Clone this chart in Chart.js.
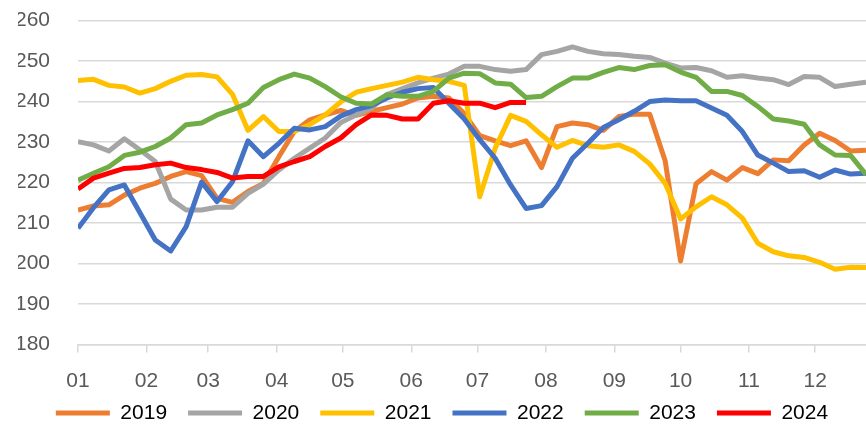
<!DOCTYPE html>
<html>
<head>
<meta charset="utf-8">
<script src="https://cdn.jsdelivr.net/npm/chart.js@4"></script>
<style>
  html, body { margin:0; padding:0; background:#fff; }
  #wrap { width:866px; height:426px; }
</style>
</head>
<body>
<div id="wrap"><canvas id="chSeason"></canvas></div>
<script>
// weekly readings, one point every 7 days from Jan 1
const years = ['2019','2020','2021','2022','2023','2024'];
const colors = ['#ED7D31','#A5A5A5','#FFC000','#4472C4','#70AD47','#FF0000'];
const monthLabels = ['01','02','03','04','05','06','07','08','09','10','11','12'];
const monthStartDays = [0,31,59,90,120,151,181,212,243,273,304,334];
const daysPerStep = 7;

const v2019 = [213.2,214.2,214.5,216.9,218.6,219.8,221.5,222.7,221.7,216.1,215.1,217.8,219.8,226.4,232.6,235.5,236.7,237.8,236.6,237.6,238.5,239.4,240.9,241.3,240.9,237.0,231.6,230.3,229.1,230.3,223.7,233.8,234.7,234.3,232.9,236.3,236.9,236.9,225.4,200.6,219.7,222.7,220.6,223.7,222.2,225.6,225.4,229.3,232.2,230.4,227.8,228.0];
const v2020 = [230.1,229.3,227.8,230.8,228.1,225.2,215.9,213.2,213.2,213.9,213.9,217.3,219.6,223.1,226.0,228.5,231.0,234.8,236.7,238.4,241.7,243.2,244.6,245.8,246.8,248.7,248.7,247.9,247.5,247.9,251.6,252.4,253.5,252.4,251.8,251.6,251.2,250.9,249.5,248.3,248.4,247.6,246.0,246.4,245.8,245.4,244.2,246.2,246.0,243.7,244.3,244.8];
const v2021 = [245.2,245.5,244.0,243.6,242.1,243.2,245.0,246.5,246.7,246.1,241.8,232.9,236.3,232.6,232.6,234.3,236.7,239.9,242.3,243.2,244.0,244.8,246.0,245.4,245.0,244.0,216.5,228.5,236.6,235.1,231.8,228.7,230.4,229.1,228.7,229.3,227.7,224.6,219.8,211.0,214.0,216.5,214.5,211.2,205.0,202.9,201.9,201.5,200.3,198.6,199.1,199.0];
const v2022 = [208.7,213.8,218.2,219.4,212.6,205.8,203.1,209.1,220.1,215.3,220.2,230.3,226.4,229.7,233.4,233.0,233.8,236.4,238.0,239.0,240.9,242.3,243.2,243.5,239.6,235.7,230.6,226.0,219.4,213.6,214.3,219.0,226.0,229.7,233.6,235.5,237.6,240.0,240.4,240.2,240.2,238.4,236.6,232.6,226.8,224.8,222.7,222.9,221.3,223.1,222.1,222.3];
const v2023 = [220.6,222.3,223.9,226.7,227.5,228.9,231.0,234.3,234.7,236.7,238.0,239.6,243.5,245.4,246.8,245.8,243.7,241.2,239.6,239.4,241.7,241.3,241.3,242.5,245.8,247.0,246.9,244.6,244.3,241.0,241.3,243.7,245.8,245.8,247.2,248.4,247.9,248.9,249.1,247.3,246.0,242.5,242.5,241.5,238.8,235.7,235.2,234.4,229.3,226.8,226.7,222.0];
const v2024 = [218.4,221.1,222.3,223.5,223.7,224.4,224.8,223.7,223.2,222.5,221.1,221.5,221.5,223.9,225.2,226.4,228.9,231.0,234.3,236.7,236.6,235.7,235.7,239.6,240.2,239.6,239.6,238.5,239.8,239.8];
const seriesValues = [v2019, v2020, v2021, v2022, v2023, v2024];

const FONT = "'Liberation Sans', Arial, sans-serif";
const FSIZE = 21;
const GRID = '#d9d9d9';
const TEXT = '#595959';

document.addEventListener('DOMContentLoaded', function(){
  const datasets = years.map((y, k) => ({
    label: y,
    data: seriesValues[k].map((v, i) => ({x: i * daysPerStep, y: v})),
    borderColor: colors[k],
    backgroundColor: colors[k],
    borderWidth: 5,
    pointRadius: 0,
    tension: 0,
    borderJoinStyle: 'round',
    fill: false,
    order: years.length - k   // later years drawn on top
  }));

  new Chart(document.getElementById('chSeason'), {
    type: 'line',
    data: { datasets },
    options: {
      responsive: true,
      maintainAspectRatio: false,
      animation: false,
      layout: { padding: { top: 0, right: 0, left: 18, bottom: -7.5 } },
      scales: {
        x: {
          type: 'linear',
          min: 0,
          max: 357,
          afterBuildTicks: s => { s.ticks = monthStartDays.map(d => ({value: d})); },
          afterFit: s => {
            s.height = 37;
            s._computeLabelArea = () => undefined;   // let labels spill below the axis box
          },
          grid: { drawOnChartArea: false, drawTicks: true, tickLength: 8, color: GRID, lineWidth: 1.5 },
          border: { display: true, color: GRID, width: 1.5 },
          ticks: {
            autoSkip: false, maxRotation: 0, padding: 16, color: TEXT,
            font: { family: FONT, size: FSIZE },
            callback: v => monthLabels[monthStartDays.indexOf(v)]
          }
        },
        y: {
          min: 180,
          max: 260,
          afterFit: s => { s.width = 60; },
          // invisible tick marks keep the labels away from the plot
          grid: { color: GRID, lineWidth: 1.5, drawTicks: true, tickLength: 20, tickColor: 'rgba(0,0,0,0)' },
          border: { display: false },
          ticks: { stepSize: 10, padding: 8, color: TEXT, font: { family: FONT, size: FSIZE } }
        }
      },
      plugins: {
        tooltip: { enabled: false },
        legend: {
          position: 'bottom',
          labels: {
            boxWidth: 54, boxHeight: 5, padding: 21,
            useBorderRadius: true, borderRadius: 2.5,
            color: TEXT, font: { family: FONT, size: FSIZE },
            generateLabels: chart => chart.data.datasets.map((d, i) => ({
              text: d.label, fillStyle: d.borderColor, strokeStyle: d.borderColor,
              lineWidth: 0, datasetIndex: i, hidden: false
            }))
          }
        }
      }
    }
  });
});
</script>
</body>
</html>
